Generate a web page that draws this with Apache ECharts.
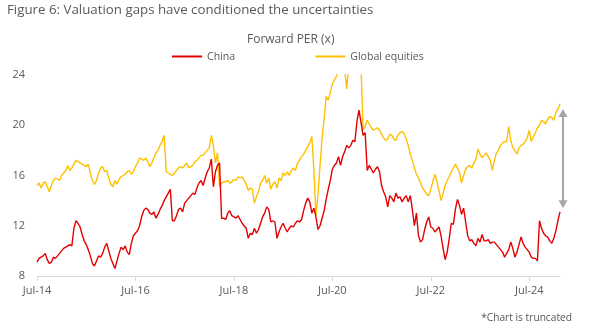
<!DOCTYPE html>
<html>
<head>
<meta charset="utf-8">
<script src="https://cdn.jsdelivr.net/npm/echarts@6/dist/echarts.min.js"></script>
<style>
  html, body { margin: 0; padding: 0; background: #ffffff; }
  #chart { width: 598px; height: 335px; }
</style>
</head>
<body>
<div id="chart"></div>
<script>
// Forward P/E, semi-monthly readings from July 2014 (one row per year, Jul..Jun)
const china = [
  9.1, 9.4, 9.5, 9.6, 9.8, 9.3, 9.0, 9.1, 9.5, 9.4, 9.6, 9.8, 10.0, 10.2, 10.3, 10.4, 10.5, 10.4, 11.8, 12.4, 12.2, 11.9, 11.3, 10.8,
  10.5, 10.1, 9.6, 9.0, 8.8, 9.2, 9.6, 9.5, 9.8, 10.3, 10.6, 10.0, 9.4, 9.0, 8.6, 9.2, 9.8, 10.3, 10.1, 10.4, 9.9, 9.7, 10.6, 11.2,
  11.4, 11.6, 12.0, 12.7, 13.2, 13.4, 13.3, 13.0, 12.9, 13.1, 12.6, 12.9, 13.3, 13.6, 14.0, 14.3, 14.6, 14.9, 12.4, 12.4, 12.8, 13.3, 13.4, 13.1,
  13.8, 14.0, 14.2, 14.4, 14.6, 14.5, 15.0, 15.4, 15.6, 15.2, 15.8, 16.3, 16.6, 17.3, 15.1, 16.3, 16.8, 17.0, 12.6, 12.6, 12.5, 13.0, 13.2, 12.8,
  12.7, 12.6, 12.8, 12.5, 12.2, 12.0, 11.8, 11.0, 11.4, 11.3, 11.8, 11.4, 11.7, 12.2, 12.7, 13.0, 13.5, 13.3, 12.3, 12.4, 12.3, 11.0, 11.5, 11.9,
  12.2, 11.8, 11.5, 11.8, 12.0, 11.9, 12.2, 12.4, 12.3, 12.5, 13.2, 13.8, 14.2, 13.9, 13.0, 13.4, 12.7, 11.7, 12.0, 12.6, 13.2, 14.1, 14.9, 15.6,
  16.5, 16.8, 17.0, 17.5, 16.8, 17.5, 17.9, 18.4, 18.2, 18.4, 18.8, 18.7, 20.3, 21.2, 20.2, 19.2, 19.4, 16.4, 16.8, 16.5, 16.2, 16.5, 16.7, 16.3,
  15.2, 14.7, 14.3, 13.5, 14.4, 14.2, 13.9, 14.6, 14.2, 14.3, 13.9, 14.2, 14.4, 13.9, 14.4, 13.3, 12.0, 13.0, 11.2, 10.7, 10.9, 11.7, 12.3, 12.7,
  11.9, 11.8, 11.5, 11.7, 11.9, 11.2, 10.2, 9.3, 9.9, 11.0, 12.2, 12.1, 13.3, 14.1, 13.6, 12.9, 13.4, 12.3, 11.2, 10.8, 10.9, 10.6, 10.4, 11.0,
  10.7, 11.3, 10.8, 10.8, 10.9, 10.6, 10.7, 10.7, 10.5, 10.3, 10.1, 9.9, 9.5, 9.8, 10.1, 10.7, 10.2, 9.5, 9.9, 10.5, 11.1, 10.6, 10.3, 10.1,
  9.9, 9.5, 9.4, 9.4, 9.2, 12.4, 11.8, 11.4, 11.2, 11.1, 10.8, 10.6, 11.0, 11.6, 12.4, 13.1
];

const globalEquities = [
  15.2, 15.4, 15.0, 15.4, 15.5, 15.1, 14.7, 15.2, 15.6, 15.8, 15.7, 15.6, 16.0, 16.2, 16.4, 16.8, 16.4, 16.6, 16.9, 17.2, 17.1, 17.0, 16.9, 16.8,
  16.7, 16.9, 16.2, 15.6, 15.3, 15.6, 16.2, 16.6, 16.7, 16.3, 16.4, 15.8, 15.3, 15.1, 15.6, 15.3, 15.7, 15.9, 16.0, 16.1, 16.3, 16.4, 16.1, 16.3,
  16.7, 17.0, 17.4, 17.3, 17.2, 17.4, 17.1, 16.7, 17.0, 17.4, 17.8, 18.0, 18.4, 18.7, 19.2, 16.3, 16.2, 16.1, 16.0, 16.2, 16.4, 16.6, 16.7, 16.6,
  16.8, 17.0, 16.6, 16.7, 16.8, 17.1, 17.2, 17.4, 17.6, 17.6, 17.8, 18.0, 18.2, 19.2, 18.4, 17.0, 17.8, 15.1, 15.4, 15.5, 15.5, 15.6, 15.4, 15.5,
  15.7, 15.6, 15.9, 15.8, 15.9, 15.6, 15.3, 14.8, 15.0, 14.9, 13.8, 14.3, 14.7, 15.4, 15.6, 16.0, 15.4, 15.8, 14.9, 15.3, 15.5, 15.0, 15.8, 15.6,
  16.2, 16.0, 16.3, 16.0, 16.4, 16.6, 16.4, 17.0, 17.2, 17.5, 17.7, 18.0, 18.3, 18.6, 19.1, 16.5, 12.8, 14.5, 16.8, 19.0, 20.5, 22.3, 22.0, 22.6,
  23.3, 23.6, 23.9, 24.3, 24.8, 25.0, 24.5, 22.9, 24.8, 25.1, 25.3, 25.2, 25.0, 24.8, 24.6, 19.6, 19.9, 20.4, 20.1, 19.8, 19.6, 19.7, 19.8, 19.6,
  19.3, 19.0, 18.8, 18.9, 19.3, 19.2, 18.9, 18.8, 19.2, 19.4, 19.5, 19.3, 18.9, 18.4, 17.7, 17.2, 16.6, 16.1, 15.8, 15.4, 15.0, 14.8, 14.5, 14.4,
  14.9, 15.5, 16.1, 15.5, 14.8, 14.0, 14.6, 15.2, 15.6, 15.9, 16.3, 16.6, 16.9, 16.6, 16.2, 15.4, 16.0, 16.5, 16.7, 16.8, 16.6, 17.0, 17.3, 18.1,
  17.7, 17.4, 17.6, 17.8, 17.5, 17.2, 16.4, 17.2, 17.8, 18.0, 18.4, 18.6, 18.7, 18.7, 19.9, 18.8, 18.2, 18.0, 17.7, 18.2, 18.4, 18.5, 18.7, 19.0,
  19.6, 18.7, 19.1, 19.4, 19.8, 20.0, 20.4, 20.3, 20.1, 20.5, 20.7, 20.6, 20.4, 21.0, 21.3, 21.7
];

const tickLabels = ['Jul-14', 'Jul-16', 'Jul-18', 'Jul-20', 'Jul-22', 'Jul-24'];
const yRange = [8, 24];
const yStep = 4;
// valuation gap bracketed by the arrow at the latest reading
const gapEnds = [21.3, 13.4];

const monthNames = ['Jan', 'Feb', 'Mar', 'Apr', 'May', 'Jun', 'Jul', 'Aug', 'Sep', 'Oct', 'Nov', 'Dec'];

// semi-monthly dates: 1st and 16th of each month, starting July 2014
const dates = [];
for (let i = 0; i < china.length; i++) {
  const m = 6 + Math.floor(i / 2);
  const year = 2014 + Math.floor(m / 12);
  const month = (m % 12) + 1;
  dates.push(year + '-' + String(month).padStart(2, '0') + '-' + (i % 2 ? '16' : '01'));
}

function shortLabel(d) {
  const p = d.split('-');
  return monthNames[+p[1] - 1] + '-' + p[0].slice(2);
}
function isTick(index, value) {
  return value.endsWith('-01') && tickLabels.indexOf(shortLabel(value)) >= 0;
}

const grey = '#595959';
const font = '"Open Sans", "Noto Sans", sans-serif';

const chart = echarts.init(document.getElementById('chart'), null, { renderer: 'canvas' });

chart.setOption({
  animation: false,
  textStyle: { fontFamily: font },
  title: [
    {
      text: 'Figure 6: Valuation gaps have conditioned the uncertainties',
      left: 7, top: 4, padding: 0,
      textStyle: { fontSize: 13.3, fontWeight: 'normal', color: grey, fontFamily: font }
    },
    {
      text: 'Forward PER (x)',
      left: 247, top: 34, padding: 0,
      textStyle: { fontSize: 12, fontWeight: 'normal', color: grey, fontFamily: font }
    },
    {
      text: '*Chart is truncated',
      right: 26, top: 313, padding: 0,
      textStyle: { fontSize: 10.2, fontWeight: 'normal', color: grey, fontFamily: font }
    }
  ],
  legend: {
    left: 167, top: 46,
    icon: 'rect',
    itemWidth: 30, itemHeight: 2,
    itemGap: 80,
    textStyle: { fontSize: 10.6, color: grey, fontFamily: font },
    data: ['China', 'Global equities']
  },
  grid: { left: 37, right: 38, top: 75, bottom: 59 },
  xAxis: {
    type: 'category',
    data: dates,
    boundaryGap: false,
    axisLine: { lineStyle: { color: '#d9d9d9', width: 1 } },
    axisTick: { interval: isTick, length: 5, lineStyle: { color: '#d9d9d9' } },
    axisLabel: {
      interval: isTick,
      formatter: shortLabel,
      color: grey, fontSize: 11, margin: 9, fontFamily: font
    },
    splitLine: { show: false }
  },
  yAxis: {
    type: 'value',
    min: yRange[0], max: yRange[1], interval: yStep,
    axisLine: { show: false },
    axisTick: { show: false },
    splitLine: { show: false },
    axisLabel: { color: grey, fontSize: 11, margin: 12, fontFamily: font }
  },
  series: [
    {
      name: 'China', type: 'line', data: china,
      showSymbol: false, symbol: 'none',
      lineStyle: { color: '#e30000', width: 1.4 },
      itemStyle: { color: '#e30000' },
      z: 3
    },
    {
      name: 'Global equities', type: 'line', data: globalEquities,
      showSymbol: false, symbol: 'none',
      lineStyle: { color: '#ffc000', width: 1.4 },
      itemStyle: { color: '#ffc000' },
      z: 2
    }
  ]
});

// double-headed arrow marking the gap just right of the last reading
const ax = chart.convertToPixel({ xAxisIndex: 0 }, dates[dates.length - 1]) + 3;
const yTop = chart.convertToPixel({ yAxisIndex: 0 }, gapEnds[0]);
const yBot = chart.convertToPixel({ yAxisIndex: 0 }, gapEnds[1]);
const head = 8, half = 4.5, arrowGrey = '#a6a6a6';
chart.setOption({
  graphic: [
    {
      type: 'line',
      shape: { x1: ax, y1: yTop + head - 1, x2: ax, y2: yBot - head + 1 },
      style: { stroke: arrowGrey, lineWidth: 2 }
    },
    {
      type: 'polygon',
      shape: { points: [[ax, yTop], [ax - half, yTop + head], [ax + half, yTop + head]] },
      style: { fill: arrowGrey }
    },
    {
      type: 'polygon',
      shape: { points: [[ax, yBot], [ax - half, yBot - head], [ax + half, yBot - head]] },
      style: { fill: arrowGrey }
    }
  ]
});
</script>
</body>
</html>
